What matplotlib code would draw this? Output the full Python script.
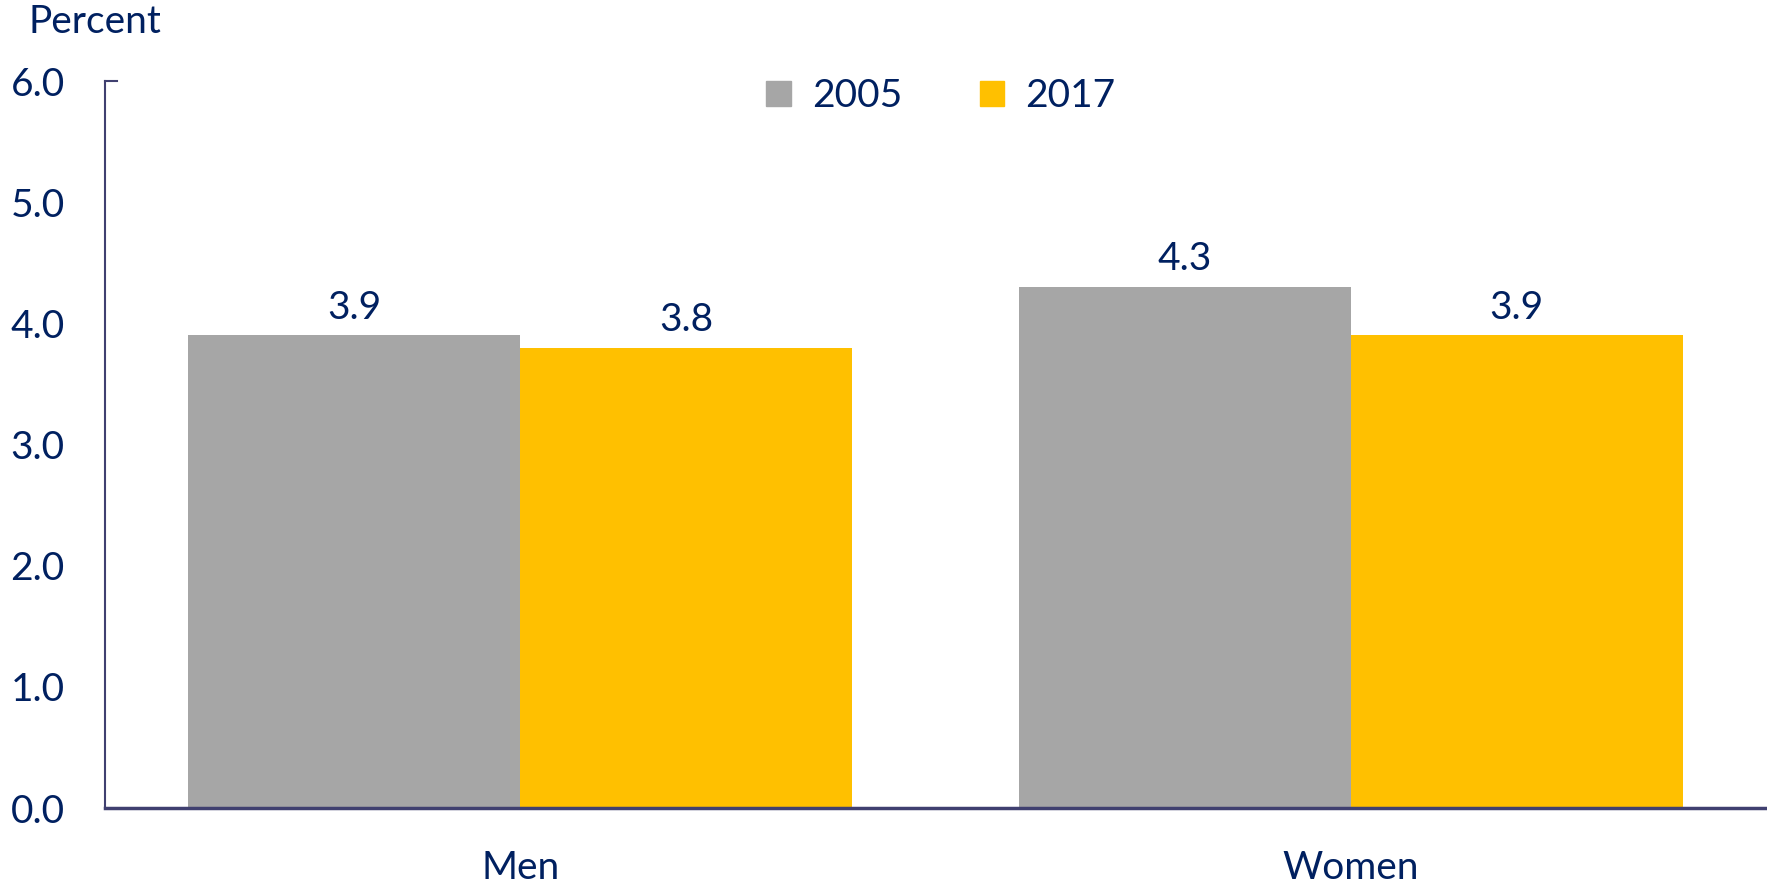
import matplotlib
matplotlib.use("Agg")
import matplotlib.pyplot as plt
from matplotlib.patches import Patch
import numpy as np

categories = ["Men", "Women"]
series_names = ["2005", "2017"]
values_2005 = [3.9, 4.3]
values_2017 = [3.8, 3.9]
yticks = [0.0, 1.0, 2.0, 3.0, 4.0, 5.0, 6.0]

navy = "#002060"
spine = "#404070"
grey = "#A6A6A6"
gold = "#FFC000"

plt.rcParams['font.family'] = ['Lato', 'DejaVu Sans']

fig = plt.figure(figsize=(17.67, 8.8), dpi=100)
ax = fig.add_axes([105/1767, 1-808/880, (1766-105)/1767, (808-81)/880])

x = np.arange(len(categories))
w = 0.4
b1 = ax.bar(x - w/2, values_2005, w, color=grey, label=series_names[0])
b2 = ax.bar(x + w/2, values_2017, w, color=gold, label=series_names[1])

fs = 28
for bars, vals in ((b1, values_2005), (b2, values_2017)):
    for r, v in zip(bars, vals):
        ax.annotate(f"{v:.1f}", (r.get_x() + r.get_width()/2, v), xytext=(0, 7),
                    textcoords="offset points", ha="center", va="bottom",
                    fontsize=fs, color=navy)

ax.set_xlim(-0.5, 1.5)
ax.set_ylim(0, 6)
ax.set_yticks(yticks)
ax.set_yticklabels([f"{t:.1f}" for t in yticks])
ax.set_xticks(x)
ax.set_xticklabels(categories)
ax.tick_params(axis='both', length=0, labelsize=fs, labelcolor=navy)
ax.tick_params(axis='y', pad=29)
ax.tick_params(axis='x', pad=30)
for s in ("top", "right"):
    ax.spines[s].set_visible(False)
for s in ("left", "bottom"):
    ax.spines[s].set_color(spine)
    ax.spines[s].set_linewidth(1.5)
ax.spines["bottom"].set_linewidth(2.5)
# small top tick mark at 6.0
ax.plot([0, 0.007], [6, 6], transform=ax.get_yaxis_transform(), color=spine, lw=1.5, clip_on=False)

fig.text(28/1767, 1-22/880, "Percent", fontsize=fs, color=navy, ha="left", va="center")

handles = [Patch(color=grey), Patch(color=gold)]
leg = ax.legend(handles, series_names, loc="center", bbox_to_anchor=((941-105)/1661, (808-96)/727),
                ncol=2, frameon=False, fontsize=fs, labelcolor=navy,
                handlelength=0.62, handleheight=0.62, handletextpad=0.55, columnspacing=2.0)

fig.savefig("out.png", dpi=100)
